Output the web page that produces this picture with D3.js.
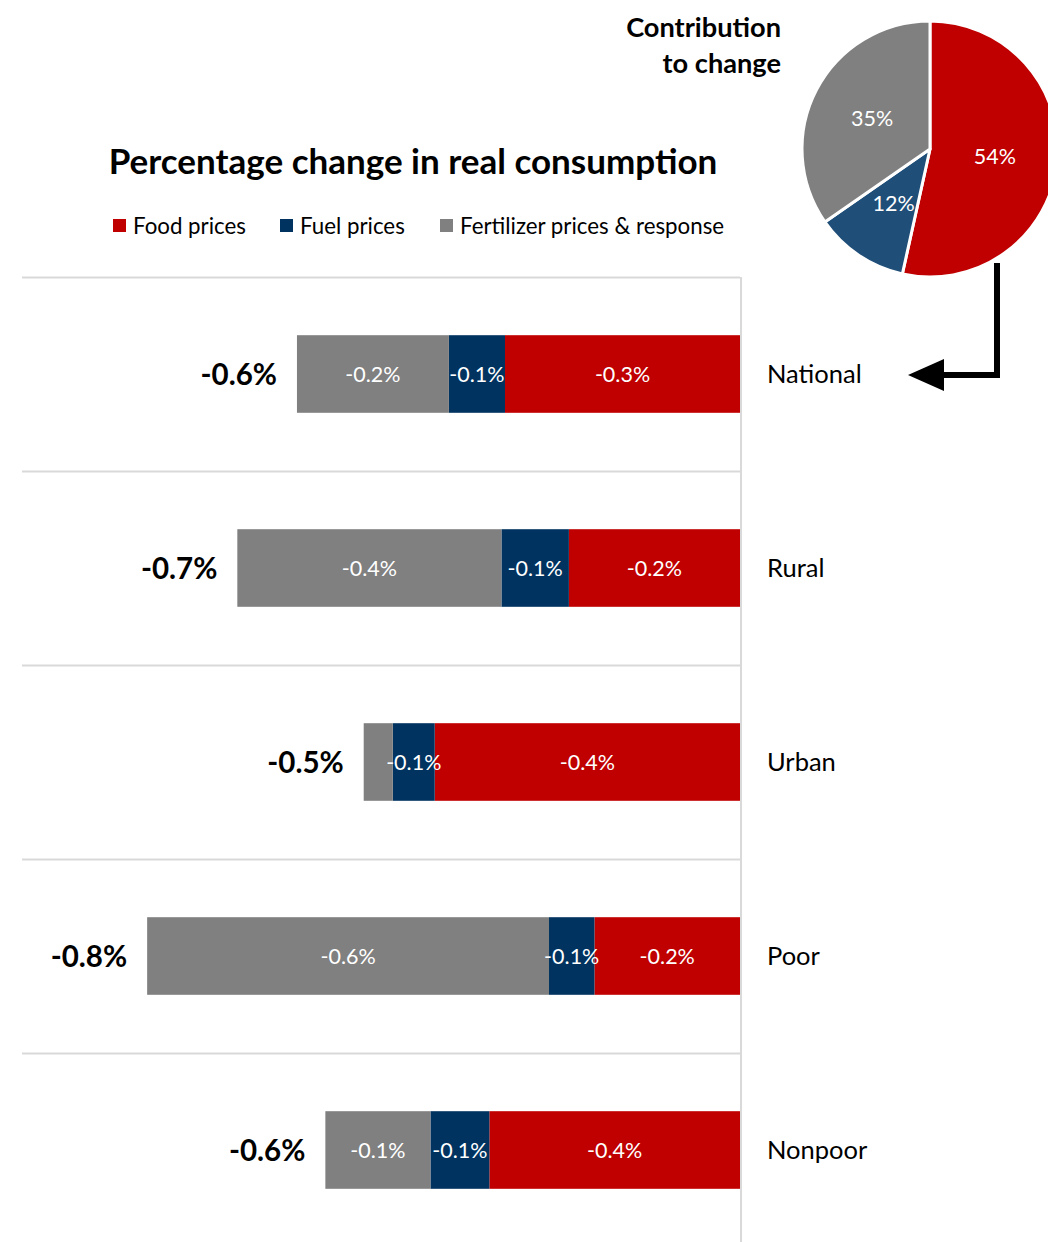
<!DOCTYPE html>
<html>
<head>
<meta charset="utf-8">
<script src="https://cdn.jsdelivr.net/npm/d3@7"></script>
<style>
  html, body { margin: 0; padding: 0; background: #fff; }
  svg { display: block; font-family: Lato, "Open Sans", sans-serif; }
</style>
</head>
<body>
<div id="chart"></div>
<script>
// Percentage change in real consumption, by group (percent points)
const categories = ["National", "Rural", "Urban", "Poor", "Nonpoor"];
const seriesNames = ["Food prices", "Fuel prices", "Fertilizer prices & response"];
const foodPrices = [-0.331, -0.241, -0.430, -0.205, -0.353];
const fuelPrices = [-0.079, -0.095, -0.059, -0.064, -0.083];
const fertilizerPrices = [-0.214, -0.372, -0.041, -0.566, -0.148];
const xDomain = [-1.0, 0];

// National contribution to change (percent of total)
const pieLabels = ["Food prices", "Fuel prices", "Fertilizer prices & response"];
const pieShares = [54, 12, 35];

const barColors = ["#C00000", "#003360", "#808080"];
const pieColors = ["#C00000", "#1F4E79", "#808080"];

const W = 1048, H = 1242;
const fmtLocale = d3.formatLocale({decimal: ".", thousands: ",", grouping: [3], currency: ["", ""], minus: "-"});
const fmt = v => fmtLocale.format(".1f")(v) + "%";

const svg = d3.select("#chart").append("svg")
  .attr("width", W).attr("height", H).attr("viewBox", [0, 0, W, H]);

// table for stacking
const rows = categories.map((c, i) => ({
  category: c,
  [seriesNames[0]]: foodPrices[i],
  [seriesNames[1]]: fuelPrices[i],
  [seriesNames[2]]: fertilizerPrices[i]
}));
const stacked = d3.stack().keys(seriesNames).offset(d3.stackOffsetDiverging)(rows);

const x = d3.scaleLinear().domain(xDomain).range([30, 740]);
const y = d3.scaleBand().domain(categories).range([277, 277 + 194 * categories.length])
  .paddingInner(0.6).paddingOuter(0.3);
const step = y.step();

// horizontal separators between groups
const grid = svg.append("g");
grid.selectAll("line").data(categories).join("line")
  .attr("x1", 22).attr("x2", x(0))
  .attr("y1", d => y(d) - step * 0.3 + 0.5)
  .attr("y2", d => y(d) - step * 0.3 + 0.5)
  .attr("stroke", "#d9d9d9").attr("stroke-width", 2);

// zero line
svg.append("line")
  .attr("x1", x(0) + 1).attr("x2", x(0) + 1)
  .attr("y1", 277).attr("y2", H)
  .attr("stroke", "#d9d9d9").attr("stroke-width", 2);

// stacked bars
const layers = svg.append("g").selectAll("g").data(stacked).join("g")
  .attr("fill", (d, i) => barColors[i]);
layers.selectAll("rect").data(d => d).join("rect")
  .attr("x", d => x(d[0]))
  .attr("width", d => x(d[1]) - x(d[0]))
  .attr("y", d => y(d.data.category))
  .attr("height", y.bandwidth());

// segment labels
const segLabels = svg.append("g").selectAll("g").data(stacked).join("g");
segLabels.selectAll("text")
  .data(d => d.map(s => ({s, v: s.data[d.key]})).filter(o => Math.abs(o.v) >= 0.05))
  .join("text")
  .attr("x", o => (x(o.s[0]) + x(o.s[1])) / 2)
  .attr("y", o => y(o.s.data.category) + y.bandwidth() / 2)
  .attr("dy", "0.35em")
  .attr("text-anchor", "middle")
  .attr("fill", "#fff")
  .attr("font-size", 21.5)
  .text(o => fmt(o.v));

// totals
const totals = categories.map((c, i) => foodPrices[i] + fuelPrices[i] + fertilizerPrices[i]);
svg.append("g").selectAll("text").data(categories).join("text")
  .attr("x", (d, i) => x(totals[i]) - 20)
  .attr("y", d => y(d) + y.bandwidth() / 2)
  .attr("dy", "0.36em")
  .attr("text-anchor", "end")
  .attr("font-weight", 700)
  .attr("font-size", 29.5)
  .attr("fill", "#000")
  .text((d, i) => fmt(totals[i]));

// category names
svg.append("g").selectAll("text").data(categories).join("text")
  .attr("x", 767)
  .attr("y", d => y(d) + y.bandwidth() / 2)
  .attr("dy", "0.35em")
  .attr("font-size", 25.5)
  .attr("fill", "#000")
  .text(d => d);

// title
svg.append("text")
  .attr("x", 413).attr("y", 162).attr("dy", "0.35em")
  .attr("text-anchor", "middle")
  .attr("font-weight", 700).attr("font-size", 35)
  .text("Percentage change in real consumption");

// legend
const legendX = [113, 280, 440];
const legend = svg.append("g").selectAll("g").data(seriesNames).join("g")
  .attr("transform", (d, i) => `translate(${legendX[i]},226)`);
legend.append("rect").attr("x", 0).attr("y", -7).attr("width", 13).attr("height", 13)
  .attr("fill", (d, i) => barColors[i]);
legend.append("text").attr("x", 20).attr("dy", "0.35em")
  .attr("font-size", 22.3).attr("fill", "#000").text(d => d);

// pie: contribution to change
const pcx = 930, pcy = 149, pr = 128;
const pie = d3.pie().sort(null).value(d => d.v)(pieShares.map((v, i) => ({v, k: pieLabels[i]})));
const arc = d3.arc().innerRadius(0).outerRadius(pr);
const labelArc = d3.arc().innerRadius(pr * 0.51).outerRadius(pr * 0.51);
const pg = svg.append("g").attr("transform", `translate(${pcx},${pcy})`);
pg.selectAll("path").data(pie).join("path")
  .attr("d", arc)
  .attr("fill", (d, i) => pieColors[i])
  .attr("stroke", "#fff").attr("stroke-width", 3).attr("stroke-linejoin", "round");
pg.selectAll("text").data(pie).join("text")
  .attr("transform", d => `translate(${labelArc.centroid(d)})`)
  .attr("dy", "0.35em")
  .attr("text-anchor", "middle")
  .attr("fill", "#fff")
  .attr("font-size", 21.5)
  .text(d => d.data.v + "%");

svg.append("text")
  .attr("x", 781).attr("y", 27).attr("dy", "0.35em")
  .attr("text-anchor", "end").attr("font-weight", 700).attr("font-size", 27.2)
  .text("Contribution");
svg.append("text")
  .attr("x", 781).attr("y", 63).attr("dy", "0.35em")
  .attr("text-anchor", "end").attr("font-weight", 700).attr("font-size", 27.2)
  .text("to change");

// elbow arrow from the pie to the National bar
svg.append("path")
  .attr("d", d3.line()([[997, 263], [997, 375], [938, 375]]))
  .attr("fill", "none").attr("stroke", "#000").attr("stroke-width", 6);
svg.append("path")
  .attr("d", d3.line()([[908, 375], [944, 359], [944, 391]]) + "Z")
  .attr("fill", "#000");
</script>
</body>
</html>
